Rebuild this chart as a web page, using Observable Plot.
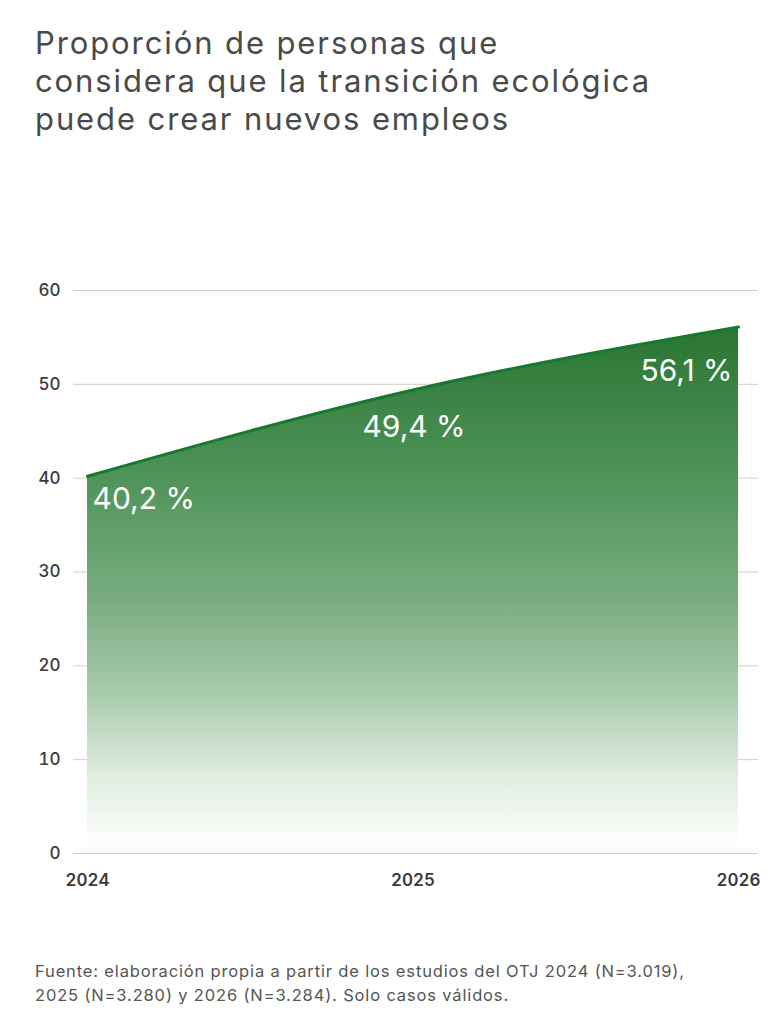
<!DOCTYPE html>
<html>
<head>
<meta charset="utf-8">
<script src="https://cdn.jsdelivr.net/npm/d3@7"></script>
<script src="https://cdn.jsdelivr.net/npm/@observablehq/plot@0.6"></script>
<style>
  html, body { margin: 0; padding: 0; background: #fff; }
  body { width: 784px; height: 1024px; position: relative; font-family: Inter, "Noto Sans", sans-serif; }
  #title { position: absolute; left: 35px; top: 24px; font-size: 31px; line-height: 38px; color: #4a4a4a; font-weight: 400; letter-spacing: 1.9px; }
  #chart { position: absolute; left: 0; top: 250px; }
  #footer { position: absolute; left: 35px; top: 959px; font-size: 16.5px; line-height: 24px; color: #555; letter-spacing: 0.85px; }
</style>
</head>
<body>
<div id="title">Proporción de personas que<br>considera que la transición ecológica<br>puede crear nuevos empleos</div>
<div id="chart"></div>
<div id="footer">Fuente: elaboración propia a partir de los estudios del OTJ 2024 (N=3.019),<br>2025 (N=3.280) y 2026 (N=3.284). Solo casos válidos.</div>
<script>
const years = [2024, 2025, 2026];
const values = [40.2, 49.4, 56.1];
const labels = ["40,2 %", "49,4 %", "56,1 %"];
const yTicks = [0, 10, 20, 30, 40, 50, 60];

const data = years.map((year, i) => ({year, value: values[i], label: labels[i]}));

const defs = () => {
  const g = d3.create("svg:defs");
  const grad = g.append("linearGradient")
    .attr("id", "greenGrad").attr("x1", 0).attr("y1", 0).attr("x2", 0).attr("y2", 1);
  [[0, "#2a7532"], [0.28, "#4e9358"], [0.52, "#79ad80"], [0.7, "#a9cbad"], [0.84, "#dceadc"], [0.97, "#fbfdfb"], [1, "#ffffff"]]
    .forEach(([o, c]) => grad.append("stop").attr("offset", o).attr("stop-color", c));
  return g.node();
};

const plot = Plot.plot({
  width: 784,
  height: 648,
  marginTop: 40,
  marginLeft: 73,
  marginRight: 26,
  marginBottom: 45,
  style: { fontFamily: "Inter, 'Noto Sans', sans-serif", overflow: "visible" },
  x: { domain: [2024, 2026], insetLeft: 14, insetRight: 20 },
  y: { domain: [0, 60] },
  marks: [
    defs,
    Plot.gridY(yTicks, { stroke: "#d3d0c4", strokeOpacity: 1, strokeWidth: 1 }),
    Plot.areaY(data, { x: "year", y: "value", fill: "url(#greenGrad)", curve: "monotone-x" }),
    Plot.lineY(data, { x: "year", y: "value", stroke: "#17792f", strokeWidth: 3, curve: "monotone-x" }),
    Plot.axisY(yTicks, { anchor: "left", tickSize: 0, tickPadding: 13, fontSize: 17, fontWeight: 500, fill: "#3a3a3a", label: null }),
    Plot.axisX(years, { anchor: "bottom", tickSize: 0, tickPadding: 20, fontSize: 17, fontWeight: 600, fill: "#3a3a3a", tickFormat: d => String(d), label: null }),
    Plot.text(data.filter((d, i) => i === 0), { x: "year", y: "value", text: "label", fill: "white", fontSize: 30, letterSpacing: 0.8, textAnchor: "start", dx: 5, dy: 23 }),
    Plot.text(data.filter((d, i) => i === 1), { x: "year", y: "value", text: "label", fill: "white", fontSize: 30, letterSpacing: 0.8, textAnchor: "middle", dx: 1, dy: 37 }),
    Plot.text(data.filter((d, i) => i === 2), { x: "year", y: "value", text: "label", fill: "white", fontSize: 30, letterSpacing: 0.8, textAnchor: "end", dx: -6, dy: 44 })
  ]
});
document.getElementById("chart").appendChild(plot);
</script>
</body>
</html>
